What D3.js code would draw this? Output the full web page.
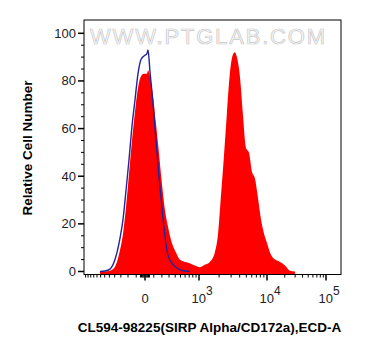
<!DOCTYPE html>
<html><head><meta charset="utf-8">
<script src="https://cdn.jsdelivr.net/npm/d3@7"></script>
<style>html,body{margin:0;padding:0;background:#fff;}svg{display:block;}</style>
</head><body>
<svg id="c" width="370" height="356"></svg>
<script>
// Channel values (ECD-A) of histogram sample points
const channel = [-717,-595,-488,-395,-313,-268,-227,-187,-150,-114,-79,-45,-11,22,34,56,90,126,162,200,240,283,345,414,488,595,717,860,1028,1225,1455,1729,1915,2118,2348,2597,2874,3183,3403,3640,4029,4456,4928,5455,6034,6673,7383,8165,9034,10000,11690,13660,16610,20180,24530,29810];
// Stained sample (red, filled)
const sample = [0,0,0.3,2,9,16,27,41,55,67,77,82,83,83,84.5,82,74,62,50,37,26,19,12,8,5,4,3.5,2.5,1.8,2.8,4,8,15,31,48,66,83,91,92,90,82,66,52,50,42,39,31,22,16,12,7,5,4,2.5,0.3,0];
// Control (blue outline)
const control = [0,0.2,1,5,14,22,34,47,61,72,83,89,90.5,91.5,93,84,71,55,40,27,15,7,3.5,1.8,0.8,0.2,0,null,null,null,null,null,null,null,null,null,null,null,null,null,null,null,null,null,null,null,null,null,null,null,null,null,null,null,null,null];
const yTicks = [0,20,40,60,80,100];
const xMajor = [{v:0,base:"0",exp:""},{v:1000,base:"10",exp:"3"},{v:10000,base:"10",exp:"4"},{v:100000,base:"10",exp:"5"}];
const xTitle = "CL594-98225(SIRP Alpha/CD172a),ECD-A";
const yTitle = "Relative Cell Number";
const watermark = "WWW.PTGLAB.COM";

const L = 84, R = 341, T = 20, B = 274.5;
const svg = d3.select("#c");
const W = 333;
const tf = v => Math.asinh(v / W);
const xs = d3.scaleLinear()
  .domain([-1267, 0, 1000, 10000, 100000, 179600].map(tf))
  .range([L, 145, 199, 267, 326, R]);
const x = v => xs(tf(v));
const y = d3.scaleLinear().domain([0, 100]).range([271.5, 33.3]);

const data = channel.map((v,i)=>({v, s: sample[i], c: control[i]}));

// watermark
svg.append("text").attr("x", 90).attr("y", 44)
  .attr("font-family", "Liberation Sans, Arial, sans-serif").attr("font-size", 22)
  .attr("textLength", 235).attr("lengthAdjust", "spacing")
  .attr("fill", "#f8f8f8").attr("stroke", "#c8c8c8").attr("stroke-width", 0.7)
  .text(watermark);

// red area
svg.append("path").datum(data)
  .attr("fill", "#ff0000")
  .attr("d", d3.area().x(d=>x(d.v)).y0(B).y1(d=>y(d.s)).curve(d3.curveMonotoneX));

// blue outline
svg.append("path").datum(data)
  .attr("fill", "none").attr("stroke", "#23239a").attr("stroke-width", 1.4)
  .attr("d", d3.line().defined(d=>d.c!=null).x(d=>x(d.v)).y(d=>y(d.c)).curve(d3.curveMonotoneX));

// frame
svg.append("rect").attr("x", L).attr("y", T).attr("width", R-L).attr("height", B-T)
  .attr("fill", "none").attr("stroke", "#000").attr("stroke-width", 1);

const font = "Liberation Sans, Arial, sans-serif";
// y ticks
const yMinor = d3.range(5, 105, 5).filter(v => v % 20 !== 0);
svg.selectAll(".ymin").data(yMinor).enter().append("line")
  .attr("x1", L-3).attr("x2", L).attr("y1", d=>y(d)).attr("y2", d=>y(d)).attr("stroke", "#000");
svg.selectAll(".ymaj").data(yTicks).enter().append("line")
  .attr("x1", L-6).attr("x2", L).attr("y1", d=>y(d)).attr("y2", d=>y(d)).attr("stroke", "#000").attr("stroke-width", 1.5);
svg.selectAll(".ylab").data(yTicks).enter().append("text")
  .attr("x", L-8).attr("y", d=>y(d)+4.5).attr("text-anchor", "end")
  .attr("font-family", font).attr("font-size", 13).attr("fill", "#222").text(d=>d);

// x ticks
const xMinor = [];
for (let k=1;k<=12;k++) xMinor.push(-100*k);
for (let k=1;k<=5;k++){ xMinor.push(10*k); xMinor.push(-10*k); }
for (let k=1;k<=9;k++) xMinor.push(100*k);
for (let k=2;k<=9;k++){ xMinor.push(1000*k); xMinor.push(10000*k); }
svg.selectAll(".xmin").data(xMinor.filter(v=>x(v)>L && x(v)<R)).enter().append("line")
  .attr("x1", d=>x(d)).attr("x2", d=>x(d)).attr("y1", B).attr("y2", B+3).attr("stroke", "#000");
svg.selectAll(".xmaj").data(xMajor).enter().append("line")
  .attr("x1", d=>x(d.v)).attr("x2", d=>x(d.v)).attr("y1", B).attr("y2", B+6).attr("stroke", "#000").attr("stroke-width", 1.5);
const xl = svg.selectAll(".xlab").data(xMajor).enter().append("text")
  .attr("x", d=>x(d.v) + (d.exp ? 3 : 0)).attr("y", 303).attr("text-anchor", "middle")
  .attr("font-family", font).attr("font-size", 13).attr("fill", "#222");
xl.append("tspan").text(d=>d.base);
xl.append("tspan").attr("dy", -8).attr("font-size", 12).text(d=>d.exp);

// titles
svg.append("text").attr("x", 209.5).attr("y", 332).attr("text-anchor", "middle")
  .attr("font-family", font).attr("font-weight", "bold").attr("font-size", 13.5).attr("fill", "#000").text(xTitle);
svg.append("text").attr("transform", "translate(32,148) rotate(-90)").attr("text-anchor", "middle")
  .attr("font-family", font).attr("font-weight", "bold").attr("font-size", 13.5).attr("fill", "#000").text(yTitle);
</script>
</body></html>
